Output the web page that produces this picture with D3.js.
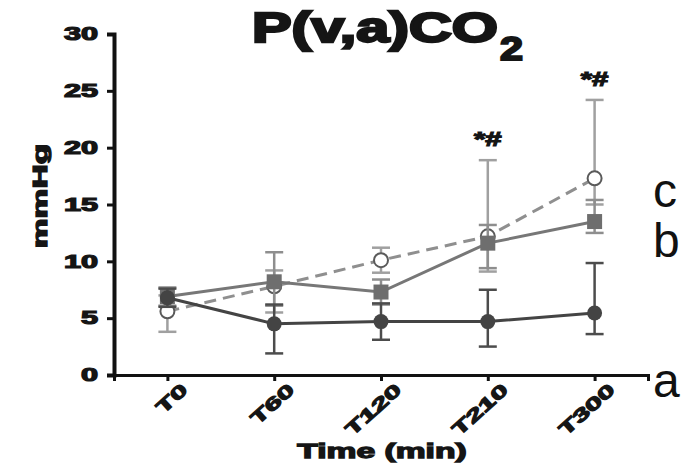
<!DOCTYPE html>
<html>
<head>
<meta charset="utf-8">
<script src="https://cdn.jsdelivr.net/npm/d3@7"></script>
<style>
  body { margin: 0; background: #fff; }
  .heavy { font-family: "Liberation Sans", Arial, sans-serif; font-weight: bold; fill: #151515; stroke: #151515; }
</style>
</head>
<body>
<script>
const times = ['T0', 'T60', 'T120', 'T210', 'T300'];
const yTicks = [0, 5, 10, 15, 20, 25, 30];

// group a: filled circle, dark solid line
const aMean = [6.8, 4.5, 4.7, 4.7, 5.45];
const aLow  = [6.0, 1.9, 3.1, 2.5, 3.6];
const aHigh = [7.6, 6.2, 6.3, 7.5, 9.85];

// group b: grey square, solid line
const bMean = [6.9, 8.2, 7.3, 11.6, 13.5];
const bLow  = [6.1, 6.1, 6.2, 9.4, 12.5];
const bHigh = [7.7, 10.8, 8.4, 13.2, 15.4];

// group c: open circle, dashed line
const cMean = [5.6, 7.8, 10.1, 12.2, 17.3];
const cLow  = [3.8, 5.5, 9.0, 9.1, 15.0];
const cHigh = [7.0, 9.2, 11.2, 18.9, 24.2];

const sigMarks = [null, null, null, '*#', '*#'];
const groupLabels = ['a', 'b', 'c'];
const groupLabelAt = [-1.9, 10.4, 14.8];

const W = 682, H = 472;
const svg = d3.select('body').append('svg')
    .attr('width', W)
    .attr('height', H);

// stretch text horizontally to mimic the very wide black typeface
function widen(sel, factor) {
    sel.each(function () {
        const len = this.getComputedTextLength();
        d3.select(this)
            .attr('textLength', len * factor)
            .attr('lengthAdjust', 'spacingAndGlyphs');
    });
}

const x = d3.scalePoint()
    .domain(times)
    .range([114, 648])
    .padding(0.5);

const y = d3.scaleLinear()
    .domain([0, 30])
    .range([375, 34]);

// axes
const yAxis = svg.append('g')
    .attr('transform', 'translate(114,0)')
    .call(d3.axisLeft(y).tickValues(yTicks).tickSize(7).tickPadding(9));
yAxis.select('.domain').attr('stroke', '#111').attr('stroke-width', 4);
yAxis.selectAll('.tick line').attr('stroke', '#111').attr('stroke-width', 3);
yAxis.selectAll('.tick text')
    .attr('class', 'heavy')
    .style('font-size', '18px')
    .attr('stroke-width', 1.2)
    .call(widen, 1.7);

const xAxis = svg.append('g')
    .attr('transform', 'translate(0,375)')
    .call(d3.axisBottom(x).tickSizeOuter(0).tickSize(6).tickPadding(5));
xAxis.select('.domain').attr('stroke', '#111').attr('stroke-width', 3);
xAxis.selectAll('.tick line').attr('stroke', '#111').attr('stroke-width', 3);
xAxis.selectAll('.tick text')
    .attr('class', 'heavy')
    .style('font-size', '18px')
    .attr('stroke-width', 1.2)
    .attr('text-anchor', 'end')
    .attr('dy', '0.85em')
    .attr('dx', '0.25em')
    .attr('transform', 'rotate(-42)')
    .call(widen, 1.65);

svg.append('text')
    .attr('class', 'heavy')
    .attr('x', 382)
    .attr('y', 458)
    .attr('text-anchor', 'middle')
    .attr('stroke-width', 1.3)
    .style('font-size', '21px')
    .text('Time (min)')
    .call(widen, 1.6);

svg.append('text')
    .attr('class', 'heavy')
    .attr('transform', 'translate(47,196) rotate(-90)')
    .attr('text-anchor', 'middle')
    .attr('stroke-width', 1.3)
    .style('font-size', '21px')
    .text('mmHg')
    .call(widen, 1.6);

svg.append('text')
    .attr('class', 'heavy')
    .attr('x', 252)
    .attr('y', 42)
    .attr('stroke-width', 2.4)
    .style('font-size', '42px')
    .text('P(v,a)CO')
    .attr('textLength', 246)
    .attr('lengthAdjust', 'spacingAndGlyphs');

svg.append('text')
    .attr('class', 'heavy')
    .attr('x', 500)
    .attr('y', 60)
    .attr('stroke-width', 2)
    .style('font-size', '33px')
    .text('2')
    .attr('textLength', 23)
    .attr('lengthAdjust', 'spacingAndGlyphs');

// series definitions
const series = [
    { mean: cMean, low: cLow, high: cHigh, line: '#8f8f8f', bar: '#a0a0a0', dash: '12,7', mark: 'open' },
    { mean: bMean, low: bLow, high: bHigh, line: '#777', bar: '#8e8e8e', dash: null, mark: 'square' },
    { mean: aMean, low: aLow, high: aHigh, line: '#444', bar: '#4c4c4c', dash: null, mark: 'dot' }
];

const capW = 9;
series.forEach(s => {
    const g = svg.append('g');
    // error bars
    times.forEach((t, i) => {
        g.append('line')
            .attr('x1', x(t)).attr('x2', x(t))
            .attr('y1', y(s.low[i])).attr('y2', y(s.high[i]))
            .attr('stroke', s.bar).attr('stroke-width', 2.5);
        [s.low[i], s.high[i]].forEach(v => {
            g.append('line')
                .attr('x1', x(t) - capW).attr('x2', x(t) + capW)
                .attr('y1', y(v)).attr('y2', y(v))
                .attr('stroke', s.bar).attr('stroke-width', 2.5);
        });
    });
    // line
    const line = d3.line()
        .x((d, i) => x(times[i]))
        .y(d => y(d));
    g.append('path')
        .datum(s.mean)
        .attr('d', line)
        .attr('fill', 'none')
        .attr('stroke', s.line)
        .attr('stroke-width', 3)
        .attr('stroke-dasharray', s.dash);
    // markers
    s.mean.forEach((v, i) => {
        if (s.mark === 'square') {
            g.append('rect')
                .attr('x', x(times[i]) - 7.5).attr('y', y(v) - 7.5)
                .attr('width', 15).attr('height', 15)
                .attr('fill', '#6e6e6e');
        } else if (s.mark === 'dot') {
            g.append('circle')
                .attr('cx', x(times[i])).attr('cy', y(v)).attr('r', 7.5)
                .attr('fill', '#444');
        } else {
            g.append('circle')
                .attr('cx', x(times[i])).attr('cy', y(v)).attr('r', 7)
                .attr('fill', '#fff')
                .attr('stroke', '#5a5a5a')
                .attr('stroke-width', 2);
        }
    });
});

// significance marks
times.forEach((t, i) => {
    if (!sigMarks[i]) return;
    svg.append('text')
        .attr('class', 'heavy')
        .attr('x', x(t))
        .attr('y', y(cHigh[i]) - 14)
        .attr('text-anchor', 'middle')
        .attr('stroke-width', 1.2)
        .style('font-size', '21px')
        .text(sigMarks[i])
        .call(widen, 1.4);
});

// group labels at right edge
groupLabels.forEach((lab, i) => {
    svg.append('text')
        .attr('x', 653)
        .attr('y', y(groupLabelAt[i]))
        .style('font-family', '"Liberation Sans", Arial, sans-serif')
        .style('font-size', '48px')
        .attr('fill', '#111')
        .text(lab);
});
</script>
</body>
</html>
